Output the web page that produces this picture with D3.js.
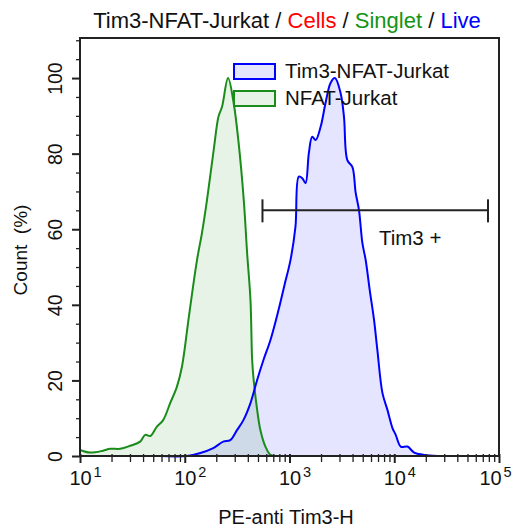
<!DOCTYPE html>
<html>
<head>
<meta charset="utf-8">
<script src="https://cdn.jsdelivr.net/npm/d3@7"></script>
<style>
  body { margin: 0; background: #fff; }
  svg text { font-family: "Liberation Sans", Arial, sans-serif; fill: #111; }
</style>
</head>
<body>
<div id="chart"></div>
<script>
// PE intensity (x) and Count % (y)
var nfatX = [10, 12.5, 16.6, 19.4, 24.2, 30.1, 37.5, 41.9, 46.8, 54.2, 62.2, 72.6, 84.1, 94, 110, 131, 146, 163, 189, 210, 227, 259, 293, 327, 366, 394, 424, 440, 455, 491, 527, 589, 658, 762];
var nfatY = [1.6, 0.9, 1.4, 1.9, 1.9, 2.7, 3.8, 5.6, 5.3, 7.8, 9.5, 14, 18.3, 23.6, 37.3, 51.9, 59, 67.7, 81, 89.8, 92.4, 100, 93.4, 82.8, 67.7, 53.7, 41.3, 25.4, 20.1, 12.2, 6.9, 2.5, 0.3, 0];

var tim3X = [58, 105, 141, 187, 233, 272, 316, 363, 424, 491, 564, 658, 785, 895, 1023, 1140, 1227, 1324, 1422, 1531, 1648, 1774, 1982, 2208, 2466, 2716, 3076, 3311, 3565, 3981, 4285, 4603, 4966, 5333, 5834, 6412, 6902, 7709, 8610, 9616, 10330, 11530, 13370, 15490, 19280, 25880];
var tim3Y = [0, 0, 0.8, 2.1, 3.8, 4.2, 6.9, 9.5, 14, 20.1, 25.4, 30.7, 38.6, 45.2, 51.9, 60.7, 73.9, 73.5, 72.2, 80.2, 84.5, 83.6, 87.1, 93.4, 98.7, 100, 96, 89.8, 78.3, 76.5, 69.6, 65.1, 56.3, 51.9, 43.9, 36, 28, 16.7, 12.2, 7.4, 5.6, 2.5, 2.5, 0.9, 0.3, 0];

var yTicks = [0, 20, 40, 60, 80, 100];
var xDecades = [10, 100, 1000, 10000, 100000];
var gateRange = [552, 78500];
var gateLevel = 65;

var titleParts = [
  {text: "Tim3-NFAT-Jurkat / ", color: "#111"},
  {text: "Cells", color: "#ff0000"},
  {text: " / ", color: "#111"},
  {text: "Singlet", color: "#149414"},
  {text: " / ", color: "#111"},
  {text: "Live", color: "#0000ff"}
];

var svgWidth = 515, svgHeight = 529;
var margin = {top: 38, right: 16, bottom: 73, left: 80};
var chartWidth = svgWidth - margin.left - margin.right;
var chartHeight = svgHeight - margin.top - margin.bottom;

var svg = d3.select("#chart").append("svg")
  .attr("width", svgWidth)
  .attr("height", svgHeight);

var chartGroup = svg.append("g")
  .attr("transform", `translate(${margin.left}, ${margin.top})`);

var x = d3.scaleLog().domain([10, 100000]).range([0, chartWidth]);
var y = d3.scaleLinear().domain([0, 110.6]).range([chartHeight, 0]);

var tim3 = tim3X.map((v, i) => ({x: v, y: tim3Y[i]}));
var nfat = nfatX.map((v, i) => ({x: v, y: nfatY[i]}));

var area = d3.area()
  .x(d => x(d.x)).y0(y(0)).y1(d => y(d.y))
  .curve(d3.curveCatmullRom);
var line = d3.line()
  .x(d => x(d.x)).y(d => y(d.y))
  .curve(d3.curveCatmullRom);

var greenFill = "rgba(20,140,20,0.1)", greenLine = "#1a8c1a";
var blueFill = "rgba(0,0,255,0.1)", blueLine = "#0000ff";

chartGroup.append("path").datum(nfat).attr("d", area).attr("fill", greenFill);
chartGroup.append("path").datum(tim3).attr("d", area).attr("fill", blueFill);
chartGroup.append("path").datum(nfat).attr("d", line)
  .attr("fill", "none").attr("stroke", greenLine).attr("stroke-width", 2);
chartGroup.append("path").datum(tim3).attr("d", line)
  .attr("fill", "none").attr("stroke", blueLine).attr("stroke-width", 2);

// frame
chartGroup.append("rect")
  .attr("x", 0).attr("y", 0)
  .attr("width", chartWidth).attr("height", chartHeight)
  .attr("fill", "none").attr("stroke", "#222").attr("stroke-width", 2);

// x axis: minor ticks then decades
var minorX = [];
xDecades.slice(0, -1).forEach(function(d) {
  for (var k = 2; k < 10; k++) minorX.push(d * k);
});
chartGroup.append("g")
  .attr("transform", `translate(0, ${chartHeight + 2})`)
  .call(d3.axisBottom(x).tickValues(minorX).tickSize(4).tickFormat(""))
  .call(g => g.select(".domain").remove())
  .selectAll("line").attr("stroke", "#222").attr("stroke-width", 1.3).attr("y1", -4);

var xAxis = chartGroup.append("g")
  .attr("transform", `translate(0, ${chartHeight})`)
  .call(d3.axisBottom(x).tickValues(xDecades).tickSize(7).tickFormat(""));
xAxis.select(".domain").remove();
xAxis.selectAll("line").attr("stroke", "#222").attr("stroke-width", 2).attr("y1", -2);
xAxis.selectAll(".tick").each(function(d, i) {
  var t = d3.select(this);
  // last label is pulled in so it stays inside the window
  var shift = i === xDecades.length - 1 ? -9 : 0;
  t.append("text").attr("x", shift).attr("y", 29).attr("text-anchor", "middle")
    .style("font-size", "20px").text("10");
  t.append("text").attr("x", shift + 13).attr("y", 21).attr("text-anchor", "start")
    .style("font-size", "14.5px").text(Math.round(Math.log10(d)));
});

// y axis
var minorY = d3.range(5, 111, 5).filter(v => v % 20 !== 0);
chartGroup.append("g")
  .call(d3.axisLeft(y).tickValues(minorY).tickSize(4).tickFormat(""))
  .call(g => g.select(".domain").remove())
  .selectAll("line").attr("stroke", "#222").attr("stroke-width", 1.3);

var yAxis = chartGroup.append("g")
  .call(d3.axisLeft(y).tickValues(yTicks).tickSize(8).tickFormat(""));
yAxis.select(".domain").remove();
yAxis.selectAll("line").attr("stroke", "#222").attr("stroke-width", 2);
yAxis.selectAll(".tick").append("text")
  .attr("transform", "translate(-18,0) rotate(-90)")
  .attr("text-anchor", "middle")
  .style("font-size", "19.5px")
  .text(d => d);

// gate
var gy = y(gateLevel);
var gate = chartGroup.append("g").attr("stroke", "#222").attr("stroke-width", 2);
gate.append("line").attr("x1", x(gateRange[0])).attr("x2", x(gateRange[1])).attr("y1", gy).attr("y2", gy);
gateRange.forEach(function(v) {
  gate.append("line").attr("x1", x(v)).attr("x2", x(v)).attr("y1", gy - 11).attr("y2", gy + 12);
});
chartGroup.append("text")
  .attr("x", x(14200)).attr("y", gy + 35)
  .attr("text-anchor", "middle")
  .style("font-size", "20.5px")
  .text("Tim3 +");

// legend
var legendItems = [
  {name: "Tim3-NFAT-Jurkat", fill: blueFill, stroke: blueLine},
  {name: "NFAT-Jurkat", fill: greenFill, stroke: greenLine}
];
var legend = svg.append("g").attr("transform", "translate(234, 64)");
legendItems.forEach(function(item, i) {
  var row = legend.append("g").attr("transform", `translate(0, ${i * 27})`);
  row.append("rect").attr("width", 41).attr("height", 15)
    .attr("fill", item.fill).attr("stroke", item.stroke).attr("stroke-width", 2);
  row.append("text").attr("x", 51).attr("y", 14)
    .style("font-size", "20.5px").text(item.name);
});

// title
var title = svg.append("text")
  .attr("x", 287).attr("y", 28)
  .attr("text-anchor", "middle")
  .style("font-size", "22px")
  .attr("xml:space", "preserve");
titleParts.forEach(function(p) {
  title.append("tspan").style("fill", p.color).text(p.text);
});

// axis labels
svg.append("text")
  .attr("x", 286).attr("y", 524)
  .attr("text-anchor", "middle")
  .style("font-size", "20px")
  .text("PE-anti Tim3-H");

svg.append("text")
  .attr("transform", "translate(27, 250) rotate(-90)")
  .attr("text-anchor", "middle")
  .style("font-size", "19px")
  .attr("xml:space", "preserve")
  .text("Count  (%)");
</script>
</body>
</html>
